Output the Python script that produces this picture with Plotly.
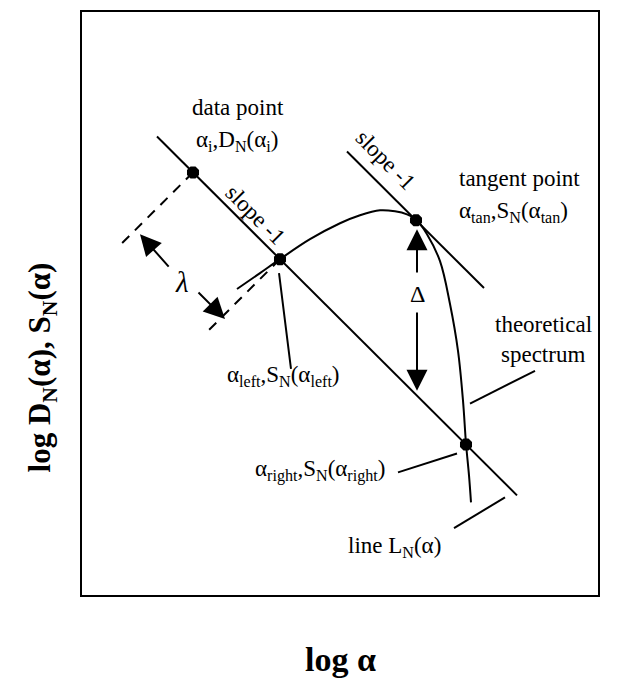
import plotly.graph_objects as go

# ---- data (schematic, in log units; 1 unit = equal length on both axes) ----
line_L_x = [1.5, 8.7]
line_L_y = [9.2, 2.0]

tangent_x = [5.3, 8.04]
tangent_y = [8.9, 6.16]

spectrum_x = [3.10, 3.56, 3.96, 4.56, 5.16, 5.56, 5.96, 6.26, 6.50, 6.68, 6.90, 7.16, 7.36, 7.52, 7.62, 7.68, 7.74, 7.78]
spectrum_y = [6.14, 6.46, 6.74, 7.14, 7.46, 7.62, 7.72, 7.70, 7.64, 7.54, 7.24, 6.70, 5.84, 4.90, 3.90, 3.04, 2.40, 1.86]

point_names = ["data", "left", "tangent", "right"]
point_x = [2.22, 3.96, 6.68, 7.68]
point_y = [8.48, 6.74, 7.52, 3.02]

dash1_x = [2.22, 0.74]
dash1_y = [8.48, 7.00]
dash2_x = [3.96, 2.48]
dash2_y = [6.74, 5.26]

leader_left_x = [3.94, 4.18]
leader_left_y = [6.46, 4.54]
leader_theo_x = [9.06, 7.76]
leader_theo_y = [4.50, 3.84]
leader_right_x = [6.32, 7.50]
leader_right_y = [2.46, 2.84]
leader_line_x = [7.44, 8.46]
leader_line_y = [1.34, 1.96]

# arrows: (head_x, head_y, tail_x, tail_y)
lambda_arrows = [(1.16, 7.24, 1.76, 6.56), (2.86, 5.54, 2.30, 6.10)]
delta_arrows = [(6.7, 7.34, 6.7, 6.44), (6.7, 4.10, 6.7, 5.70)]

labels = [
    (3.12, 9.78, "data point", 0, 23),
    (3.10, 9.12, "α<sub>i</sub>,D<sub>N</sub>(α<sub>i</sub>)", 0, 23),
    (3.46, 7.64, "slope -1", 45, 23),
    (6.06, 8.74, "slope -1", 45, 23),
    (8.74, 8.36, "tangent point", 0, 23),
    (8.62, 7.68, "α<sub>tan</sub>,S<sub>N</sub>(α<sub>tan</sub>)", 0, 23),
    (4.02, 4.40, "α<sub>left</sub>,S<sub>N</sub>(α<sub>left</sub>)", 0, 23),
    (9.22, 5.42, "theoretical", 0, 23),
    (9.22, 4.82, "spectrum", 0, 23),
    (4.76, 2.50, "α<sub>right</sub>,S<sub>N</sub>(α<sub>right</sub>)", 0, 23),
    (6.24, 0.96, "line L<sub>N</sub>(α)", 0, 23),
    (2.00, 6.28, "<i>λ</i>", 0, 29),
    (6.70, 6.04, "Δ", 0, 24),
]

FONT = "Liberation Serif"
BLACK = "black"

fig = go.Figure()

def seg(x, y, dash=None, shape="linear"):
    fig.add_trace(go.Scatter(x=x, y=y, mode="lines",
                             line=dict(color=BLACK, width=2, dash=dash, shape=shape),
                             hoverinfo="skip", showlegend=False))

seg(line_L_x, line_L_y)
seg(tangent_x, tangent_y)
seg(spectrum_x, spectrum_y, shape="spline")
seg(dash1_x, dash1_y, dash="10px,8px")
seg(dash2_x, dash2_y, dash="10px,8px")
seg(leader_left_x, leader_left_y)
seg(leader_theo_x, leader_theo_y)
seg(leader_right_x, leader_right_y)
seg(leader_line_x, leader_line_y)

fig.add_trace(go.Scatter(x=point_x, y=point_y, mode="markers", text=point_names,
                         marker=dict(symbol="octagon", size=13, color=BLACK),
                         hoverinfo="skip", showlegend=False))

for hx, hy, tx, ty in lambda_arrows + delta_arrows:
    fig.add_annotation(x=hx, y=hy, ax=tx, ay=ty, xref="x", yref="y", axref="x", ayref="y",
                       text="", showarrow=True, arrowhead=2, arrowsize=2.1, arrowwidth=2,
                       arrowcolor=BLACK, standoff=0, startstandoff=0)

for x, y, t, ang, sz in labels:
    fig.add_annotation(x=x, y=y, xref="x", yref="y", text=t, showarrow=False,
                       textangle=ang, font=dict(family=FONT, size=sz, color=BLACK),
                       xanchor="center", yanchor="middle")

fig.add_annotation(x=0.5, y=-0.111, xref="paper", yref="paper", text="<b>log α</b>",
                   showarrow=False, font=dict(family=FONT, size=34, color=BLACK),
                   xanchor="center", yanchor="middle")
fig.add_annotation(x=-0.078, y=0.39, xref="paper", yref="paper",
                   text="<b>log D<sub>N</sub>(α), S<sub>N</sub>(α)</b>",
                   showarrow=False, textangle=-90,
                   font=dict(family=FONT, size=31, color=BLACK),
                   xanchor="center", yanchor="middle")

axis_common = dict(showgrid=False, zeroline=False, showticklabels=False, ticks="",
                   showline=True, mirror=True, linecolor=BLACK, linewidth=2)
fig.update_xaxes(range=[0, 10.32], **axis_common)
fig.update_yaxes(range=[0, 11.7], **axis_common)

fig.update_layout(width=619, height=684, margin=dict(l=74, r=29, t=2, b=97),
                  plot_bgcolor="white", paper_bgcolor="white",
                  font=dict(family=FONT, color=BLACK))

fig.write_html("out.html")
